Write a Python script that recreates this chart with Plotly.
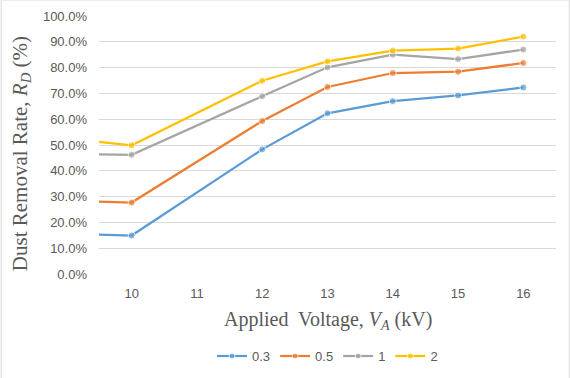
import plotly.graph_objects as go

voltage = [9.5, 10, 12, 13, 14, 15, 16]
series_names = ["0.3", "0.5", "1", "2"]
rate_03 = [15.3, 14.9, 48.3, 62.3, 67.0, 69.2, 72.3]
rate_05 = [28.1, 27.7, 59.3, 72.5, 77.9, 78.4, 81.8]
rate_1 = [46.4, 46.2, 68.9, 80.1, 85.0, 83.3, 87.0]
rate_2 = [51.2, 49.9, 74.9, 82.4, 86.6, 87.4, 92.0]
x_ticks = [10, 11, 12, 13, 14, 15, 16]
y_ticks = [0, 0.1, 0.2, 0.3, 0.4, 0.5, 0.6, 0.7, 0.8, 0.9, 1.0]

colors = ["#5B9BD5", "#ED7D31", "#A5A5A5", "#FFC000"]
all_series = [rate_03, rate_05, rate_1, rate_2]

fig = go.Figure()
for name, vals, col in zip(series_names, all_series, colors):
    fig.add_trace(go.Scatter(
        x=voltage, y=[v / 100 for v in vals], name=name, mode="lines+markers",
        line=dict(color=col, width=2.25),
        marker=dict(color=col, size=[0] + [7] * (len(vals) - 1)),
    ))

tick_font = dict(family="Liberation Sans", size=13, color="#595959")
title_font = dict(family="Liberation Serif", size=20, color="#595959")
fig.update_layout(
    width=570, height=378,
    margin=dict(l=99, r=14, t=16, b=104, autoexpand=False),
    paper_bgcolor="white", plot_bgcolor="white",
    showlegend=True,
    legend=dict(orientation="h", x=0.5, xanchor="center", y=-0.318, yanchor="middle",
                font=tick_font, itemwidth=30, tracegroupgap=0),
    xaxis=dict(range=[9.5, 16.5], tickvals=x_ticks, showgrid=False, zeroline=False,
               showline=False, tickfont=tick_font, ticks="", automargin=False,
               ticklabelstandoff=10),
    yaxis=dict(range=[0, 1.0], tickvals=y_ticks, tickformat=".1%", showgrid=True,
               gridcolor="#D9D9D9", gridwidth=1, zeroline=False, showline=False,
               tickfont=tick_font, ticks="", automargin=False, ticklabelstandoff=11),
    annotations=[
        dict(text="Applied  Voltage, <i>V</i><sub><i>A</i></sub> (kV)", xref="paper", yref="paper",
             x=0.5, y=-0.18, xanchor="center", yanchor="middle", showarrow=False, font=title_font),
        dict(text="Dust Removal Rate, <i>R</i><sub><i>D</i></sub> (%)", xref="paper", yref="paper",
             x=-0.172, y=0.466, xanchor="center", yanchor="middle", showarrow=False, textangle=-90,
             font=dict(family="Liberation Serif", size=21, color="#595959")),
    ],
    shapes=[dict(type="rect", xref="paper", yref="paper",
                 x0=-0.214, x1=1.029, y0=-0.405, y1=1.062,
                 line=dict(color="#D9D9D9", width=1), fillcolor="rgba(0,0,0,0)")],
)

fig.write_html("out.html", config={"displayModeBar": False},
               post_script="document.body.style.margin='0';")
